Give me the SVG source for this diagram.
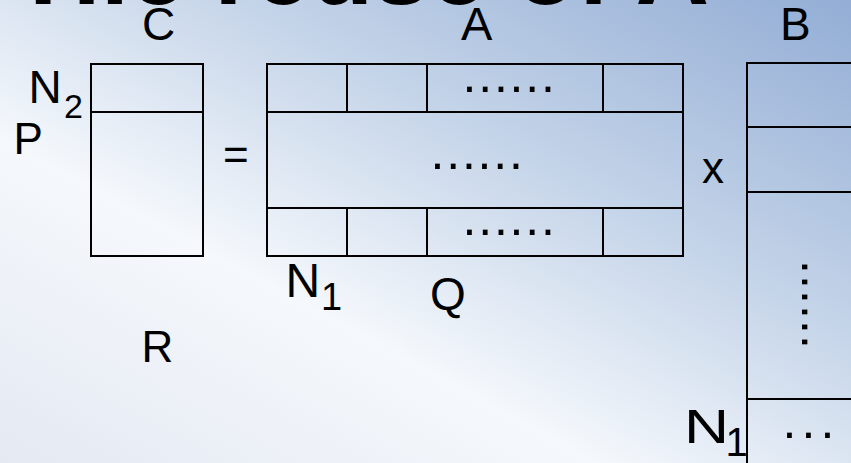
<svg xmlns="http://www.w3.org/2000/svg" width="851" height="463" viewBox="0 0 851 463">
  <defs>
    <linearGradient id="bg" x1="1" y1="0" x2="0" y2="1">
      <stop offset="0" stop-color="#93add5"/>
      <stop offset="0.35" stop-color="#c3d3e8"/>
      <stop offset="0.65" stop-color="#f5f8fc"/>
      <stop offset="1" stop-color="#e4e9f2"/>
    </linearGradient>
  </defs>
  <style>
    .cell { fill: none; stroke: #000; stroke-width: 2; }
    .ln { stroke: #000; stroke-width: 2; fill: none; }
    .lbl { font-family: "Liberation Sans", Arial, sans-serif; fill: #000; }
    .dots { font-family: "Liberation Sans", Arial, sans-serif; font-size: 50px; fill: #000; }
    .title { font-family: "Liberation Sans", Arial, sans-serif; font-weight: bold; font-size: 102px; fill: #000; }
  </style>
  <rect x="0" y="0" width="851" height="463" fill="url(#bg)"/>

  <g id="title">
    <text class="title" x="12" y="4">Tile reuse of A</text>
  </g>

  <g id="matrix-C">
    <rect class="cell" x="91" y="64" width="112" height="192"/>
    <line class="ln" x1="91" y1="112" x2="203" y2="112"/>
    <text class="lbl" x="142" y="40" font-size="46">C</text>
    <text class="lbl" x="28.5" y="103" font-size="46">N</text>
    <text class="lbl" x="64" y="118" font-size="34">2</text>
    <text class="lbl" x="13.5" y="154" font-size="44">P</text>
    <text class="lbl" x="141.5" y="362" font-size="44">R</text>
  </g>

  <g id="equals">
    <text class="lbl" x="223" y="170" font-size="44">=</text>
  </g>

  <g id="matrix-A">
    <rect class="cell" x="267" y="64" width="416" height="192"/>
    <line class="ln" x1="267" y1="112" x2="683" y2="112"/>
    <line class="ln" x1="267" y1="208" x2="683" y2="208"/>
    <line class="ln" x1="347" y1="64" x2="347" y2="112"/>
    <line class="ln" x1="427" y1="64" x2="427" y2="112"/>
    <line class="ln" x1="603" y1="64" x2="603" y2="112"/>
    <line class="ln" x1="347" y1="208" x2="347" y2="256"/>
    <line class="ln" x1="427" y1="208" x2="427" y2="256"/>
    <line class="ln" x1="603" y1="208" x2="603" y2="256"/>
    <text class="dots" x="462.5" y="91.5" letter-spacing="1.8">......</text>
    <text class="dots" x="430.5" y="168.5" letter-spacing="1.8">......</text>
    <text class="dots" x="462.5" y="234.5" letter-spacing="1.8">......</text>
    <text class="lbl" x="461" y="40" font-size="47">A</text>
    <text class="lbl" x="285.5" y="297" font-size="48">N</text>
    <text class="lbl" x="321" y="310" font-size="38">1</text>
    <text class="lbl" x="430" y="310" font-size="46">Q</text>
  </g>

  <g id="times">
    <text class="lbl" x="702" y="183" font-size="44">x</text>
  </g>

  <g id="matrix-B">
    <line class="ln" x1="747" y1="63" x2="747" y2="470"/>
    <line class="ln" x1="746" y1="63" x2="860" y2="63"/>
    <line class="ln" x1="747" y1="127" x2="860" y2="127"/>
    <line class="ln" x1="747" y1="192" x2="860" y2="192"/>
    <line class="ln" x1="747" y1="399" x2="860" y2="399"/>
    <text class="dots" transform="translate(801.5,260) rotate(90)" x="0" y="0" letter-spacing="1.1">......</text>
    <text class="dots" x="782.5" y="437.5" letter-spacing="5.1">...</text>
    <text class="lbl" x="780" y="40" font-size="46">B</text>
    <text class="lbl" transform="translate(684,443) scale(1.3,1)" x="0" y="0" font-size="48">N</text>
    <text class="lbl" x="725.5" y="456" font-size="40">1</text>
  </g>
</svg>
